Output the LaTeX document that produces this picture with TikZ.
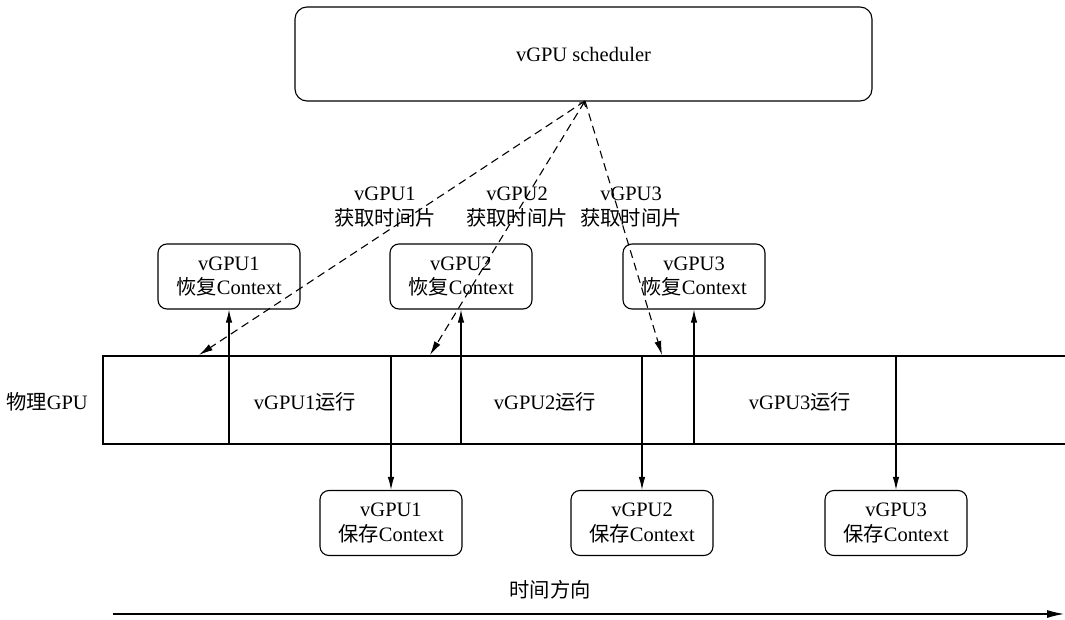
\documentclass[tikz,border=0pt]{standalone}
\usepackage{fontspec}
\setmainfont{Liberation Serif}
\newfontfamily\cjk{Noto Sans CJK SC}
\usetikzlibrary{arrows.meta}
\tikzset{
  box/.style={draw, rounded corners=9pt, line width=1.1pt, minimum width=142pt, minimum height=65pt, align=center, inner sep=0pt},
  txt/.style={align=center, inner sep=0pt},
  solidarr/.style={line width=1.1pt, -{Latex[length=13pt,width=6.5pt]}},
  dasharr/.style={line width=1.1pt, dash pattern=on 8pt off 5pt, -{Latex[length=14pt,width=7pt]}},
  every node/.style={font=\fontsize{20.5}{24.5}\selectfont}
}
\newcommand{\zh}[1]{{\cjk\fontsize{20.3}{24.5}\selectfont #1}}
\begin{document}
\begin{tikzpicture}[x=1pt,y=-1pt]
\useasboundingbox (0,0) rectangle (1065,620);

% scheduler
\node[box, minimum width=577pt, minimum height=94pt, rounded corners=12pt] (sched) at (583.5,54) {vGPU scheduler};

% restore-context boxes
\node[box] (r1) at (229,276.5) {vGPU1\\\zh{恢复}Context};
\node[box] (r2) at (461,276.5) {vGPU2\\\zh{恢复}Context};
\node[box] (r3) at (694,276.5) {vGPU3\\\zh{恢复}Context};

% save-context boxes
\node[box] (s1) at (391,523) {vGPU1\\\zh{保存}Context};
\node[box] (s2) at (642,523) {vGPU2\\\zh{保存}Context};
\node[box] (s3) at (896,523) {vGPU3\\\zh{保存}Context};

% time-slice labels
\node[txt] (l1) at (385,207) {vGPU1\\\zh{获取时间片}};
\node[txt] (l2) at (517,207) {vGPU2\\\zh{获取时间片}};
\node[txt] (l3) at (631,207) {vGPU3\\\zh{获取时间片}};

% physical GPU timeline bar
\coordinate (bl) at (103,356);
\coordinate (br) at (1065,356);
\coordinate (bbl) at (103,444);
\coordinate (bbr) at (1065,444);
\draw[line width=1.1pt] (br) -- (bl) -- (bbl) -- (bbr);
\node[txt] (gpu) at (47,402) {\zh{物理}GPU};
\node[txt] (run1) at (305,402) {vGPU1\zh{运行}};
\node[txt] (run2) at (545,402) {vGPU2\zh{运行}};
\node[txt] (run3) at (800,402) {vGPU3\zh{运行}};

% restore: from bar bottom up to the boxes
\draw[solidarr] (r1.south |- bbl) -- (r1.south);
\draw[solidarr] (r2.south |- bbl) -- (r2.south);
\draw[solidarr] (r3.south |- bbl) -- (r3.south);

% save: from bar top down to the boxes
\draw[solidarr] (s1.north |- bl) -- (s1.north);
\draw[solidarr] (s2.north |- bl) -- (s2.north);
\draw[solidarr] (s3.north |- bl) -- (s3.north);

% scheduler hands out time slices
\coordinate (hub) at (585,101);
\coordinate (d1) at (199,355);
\coordinate (d2) at (430,355);
\coordinate (d3) at (662,355);
\draw[dasharr] (hub) -- (d1);
\draw[dasharr, {To[length=5pt,width=8pt]}-{Latex[length=14pt,width=7pt]}] (hub) -- (d2);
\draw[dasharr] (hub) -- (d3);

% time direction
\node[txt] (dir) at (550,590) {\zh{时间方向}};
\coordinate (t0) at (113,614);
\coordinate (t1) at (1064,614);
\draw[line width=1.1pt, -{Latex[length=17pt,width=8pt]}] (t0) -- (t1);
\end{tikzpicture}
\end{document}
